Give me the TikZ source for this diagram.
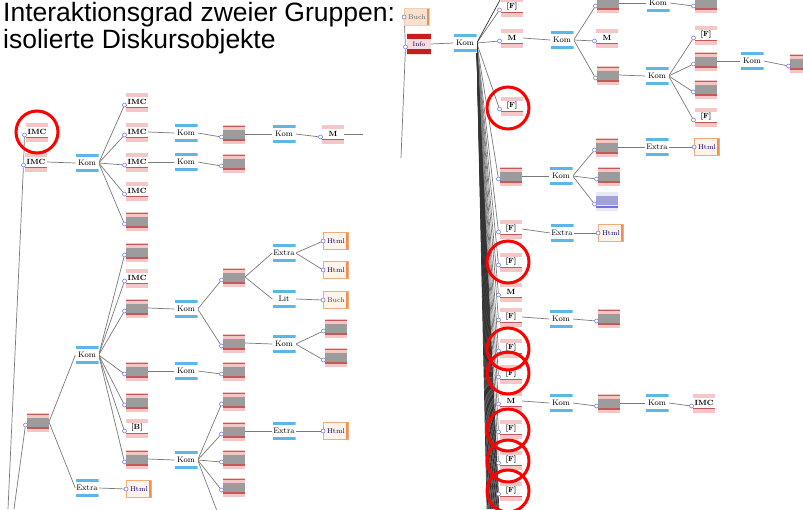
\documentclass[tikz,border=0pt]{standalone}
\usepackage{fontspec}
\newfontfamily\headfont{Liberation Sans}
\pgfdeclarelayer{bg}
\pgfdeclarelayer{wires}
\pgfsetlayers{bg,wires,main}

\definecolor{pinkc}{HTML}{F5C6C6}
\definecolor{redc}{HTML}{C65858}
\definecolor{darkredc}{HTML}{C41E1E}
\definecolor{greyc}{HTML}{9C9C9C}
\definecolor{bluec}{HTML}{5CB6E6}
\definecolor{orangec}{HTML}{EE9050}
\definecolor{docfill}{HTML}{FFF4EC}
\definecolor{portc}{HTML}{7A7AD8}
\definecolor{wirec}{HTML}{7A7A7A}
\definecolor{lavc}{HTML}{A2A2DA}

\tikzset{
  x=1pt, y=1pt,
  msgbase/.style={rectangle, minimum width=22pt, minimum height=19pt,
    inner sep=0pt, outer sep=0pt, fill=pinkc},
  greymsg/.style={msgbase, path picture={
      \fill[greyc] ([yshift=-5.5pt]path picture bounding box.north west)
        rectangle ([yshift=5pt]path picture bounding box.south east);
      \fill[redc] ([yshift=-1.2pt]path picture bounding box.north west)
        rectangle ([yshift=-2.7pt]path picture bounding box.north east);
      \fill[redc] ([yshift=2.6pt]path picture bounding box.south west)
        rectangle ([yshift=4.1pt]path picture bounding box.south east);}},
  lavmsg/.style={msgbase, fill=lavc!25, path picture={
      \fill[lavc] ([yshift=-4pt]path picture bounding box.north west)
        rectangle ([yshift=6pt]path picture bounding box.south east);
      \fill[lavc!70!blue] ([yshift=3pt]path picture bounding box.south west)
        rectangle ([yshift=4.2pt]path picture bounding box.south east);}},
  textmsg/.style={msgbase, font=\fontsize{7.5}{7.5}\selectfont\bfseries, path picture={
      \fill[white] ([yshift=-4pt]path picture bounding box.north west)
        rectangle ([yshift=5pt]path picture bounding box.south east);
      \fill[redc] ([yshift=3.2pt]path picture bounding box.south west)
        rectangle ([yshift=4.5pt]path picture bounding box.south east);}},
  redmsg/.style={msgbase, minimum width=24pt, minimum height=22pt, fill=pinkc!60,
    font=\fontsize{6.5}{6.5}\selectfont, text=blue!40!black, path picture={
      \fill[darkredc] ([yshift=-1pt]path picture bounding box.north west)
        rectangle ([yshift=-6pt]path picture bounding box.north east);
      \fill[darkredc] ([yshift=1pt]path picture bounding box.south west)
        rectangle ([yshift=6pt]path picture bounding box.south east);}},
  link/.style={rectangle, minimum width=23pt, minimum height=19pt, inner sep=0pt,
    fill=white, font=\fontsize{8}{8}\selectfont, path picture={
      \fill[bluec] ([yshift=-0.5pt]path picture bounding box.north west)
        rectangle ([yshift=-3.2pt]path picture bounding box.north east);
      \fill[bluec] ([yshift=0.5pt]path picture bounding box.south west)
        rectangle ([yshift=3.2pt]path picture bounding box.south east);}},
  doc/.style={rectangle, minimum width=25pt, minimum height=17pt, inner sep=0pt,
    fill=docfill, draw=orangec!75, line width=0.8pt,
    font=\fontsize{7}{7}\selectfont, text=blue!45!black, path picture={
      \fill[orangec] ([xshift=-2.8pt]path picture bounding box.north east)
        rectangle (path picture bounding box.south east);}},
  port/.style={circle, draw=portc, fill=white, line width=0.6pt,
    minimum size=4pt, inner sep=0pt},
  wire/.style={draw=wirec, line width=0.7pt},
  bundle/.style={draw=black!80, line width=0.7pt},
  ring/.style={circle, draw=red, line width=3pt, minimum size=42pt, inner sep=0pt},
  headline/.style={anchor=base west, inner sep=0pt,
    font=\headfont\fontsize{26.5}{30}\selectfont},
}

% message node with its port slightly below the left edge
\newcommand\msgnode[4]{%
  \node[#1] (#2) at (#3) {#4};
  \node[port] (p#2) at ([xshift=-1.5pt,yshift=-3pt]#2.west) {};}
% document node with its port on the left edge
\newcommand\docnode[4]{%
  \node[#1] (#2) at (#3) {#4};
  \node[port] (p#2) at (#2.west) {};}

\begin{document}
\begin{tikzpicture}
\useasboundingbox (0,0) rectangle (803,-509);
\begin{pgfonlayer}{bg}
  \fill[white] (0,0) rectangle (803,-509);
\end{pgfonlayer}

% heading
\node[headline] (title1) at (3,-21) {Interaktionsgrad zweier Gruppen:};
\node[headline] (title2) at (3,-48) {isolierte Diskursobjekte};

% ---------------- left tree ----------------
\msgnode{textmsg}{a1}{37,-132}{IMC}
\msgnode{textmsg}{a2}{36,-162}{IMC}
\msgnode{greymsg}{a3}{38,-422}{}
\node[link] (l1) at (87,-163) {Kom};
\node[link] (l4) at (87,-355) {Kom};
\node[link] (l5) at (87,-488) {Extra};
\docnode{doc}{d0}{139,-489}{Html}

\msgnode{textmsg}{b1}{137,-102}{IMC}
\msgnode{textmsg}{b2}{137,-132}{IMC}
\msgnode{textmsg}{b3}{137,-162}{IMC}
\msgnode{textmsg}{b4}{137,-191}{IMC}
\msgnode{greymsg}{b5}{137,-221}{}
\msgnode{greymsg}{b6}{137,-252}{}
\msgnode{textmsg}{b7}{137,-278}{IMC}
\msgnode{greymsg}{b8}{137,-308}{}
\msgnode{greymsg}{b9}{137,-371}{}
\msgnode{greymsg}{b10}{137,-402}{}
\msgnode{textmsg}{b11}{137,-428}{[B]}
\msgnode{greymsg}{b12}{137,-459}{}

\node[link] (c1) at (186,-133) {Kom};
\node[link] (c2) at (186,-162) {Kom};
\node[link] (c3) at (186,-309) {Kom};
\node[link] (c4) at (186,-371) {Kom};
\node[link] (c5) at (186,-460) {Kom};

\msgnode{greymsg}{d1}{234,-134}{}
\msgnode{greymsg}{d2}{234,-163}{}
\msgnode{greymsg}{d3}{234,-277}{}
\msgnode{greymsg}{d4}{234,-343}{}
\msgnode{greymsg}{d5}{234,-371}{}
\msgnode{greymsg}{e1}{234,-401}{}
\msgnode{greymsg}{e2}{234,-431}{}
\msgnode{greymsg}{e3}{234,-459}{}
\msgnode{greymsg}{e4}{234,-487}{}
\msgnode{greymsg}{e5}{234,-520}{}

\node[link] (f1) at (284,-134) {Kom};
\node[link] (f2) at (284,-253) {Extra};
\node[link] (f3) at (284,-299) {Lit};
\node[link] (f4) at (284,-344) {Kom};
\node[link] (f5) at (284,-431) {Extra};

\msgnode{textmsg}{g1}{333,-134}{M}
\docnode{doc}{g2}{336,-241}{Html}
\docnode{doc}{g3}{336,-270}{Html}
\docnode{doc, text=black!75}{g4}{336,-300}{Buch}
\msgnode{greymsg}{g5}{336,-328}{}
\msgnode{greymsg}{g6}{336,-357}{}
\docnode{doc}{g7}{336,-431}{Html}

\coordinate (t1) at (363,-134);
\coordinate (bl1) at (8,-509);
\coordinate (bl2) at (14,-509);

% ---------------- right tree ----------------
\docnode{doc, fill=orangec!28, draw=orangec!45, text=black!60}{rb}{417,-17}{Buch}
\msgnode{redmsg}{r0}{419,-44}{Info}
\node[link] (rk) at (465,-43) {Kom};

\msgnode{textmsg}{s0}{512,-7}{[F]}
\msgnode{textmsg}{s1}{512,-38}{M}
\msgnode{textmsg}{s2}{512,-106}{[F]}
\msgnode{greymsg}{s3}{511,-176}{}
\msgnode{textmsg}{s4}{511,-229}{[F]}
\msgnode{textmsg}{s5}{511,-262}{[F]}
\msgnode{textmsg}{s6}{511,-292}{M}
\msgnode{textmsg}{s7}{511,-317}{[F]}
\msgnode{textmsg}{s8}{511,-348}{[F]}
\msgnode{textmsg}{s9}{511,-374}{[F]}
\msgnode{textmsg}{s10}{511,-401}{M}
\msgnode{textmsg}{s11}{511,-429}{[F]}
\msgnode{textmsg}{s12}{511,-460}{[F]}
\msgnode{textmsg}{s13}{511,-491}{[F]}

\node[link] (h1) at (562,-40) {Kom};
\node[link] (h2) at (561,-176) {Kom};
\node[link] (h3) at (562,-233) {Extra};
\node[link] (h4) at (561,-319) {Kom};
\node[link] (h5) at (561,-403) {Kom};

\msgnode{greymsg}{i0}{608,-3}{}
\msgnode{textmsg}{i1}{607,-38}{M}
\msgnode{greymsg}{i2}{608,-75}{}
\msgnode{greymsg}{i3}{607,-147}{}
\msgnode{greymsg}{i4}{609,-176}{}
\msgnode{lavmsg}{i5}{607,-201}{}
\docnode{doc}{i6}{611,-233}{Html}
\msgnode{greymsg}{i7}{609,-318}{}
\msgnode{greymsg}{i8}{609,-403}{}

\node[link] (j0) at (658,-3) {Kom};
\node[link] (j1) at (657,-76) {Kom};
\node[link] (j2) at (657,-147) {Extra};
\node[link] (j3) at (657,-403) {Kom};

\msgnode{greymsg}{k0}{706,-3}{}
\msgnode{textmsg}{k1}{706,-35}{[F]}
\msgnode{greymsg}{k2}{706,-61}{}
\msgnode{greymsg}{k3}{706,-89}{}
\msgnode{textmsg}{k4}{706,-117}{[F]}
\docnode{doc}{k5}{707,-147}{Html}
\msgnode{textmsg}{k6}{704,-403}{IMC}

\node[link] (m1) at (752,-61) {Kom};
\msgnode{greymsg}{n1}{801,-63}{}

\coordinate (rl) at (401,-158);
\coordinate (rtop) at (500,0);

% ---------------- connectors ----------------
\begin{pgfonlayer}{wires}
  % left tree
  \draw[wire] (pa1) -- (pa2) -- (bl1);
  \draw[wire] (pa3) -- (bl2);
  \draw[wire] (a2.east) -- (l1.west);
  \foreach \t in {b1,b2,b3,b4,b5} \draw[wire] (l1.east) -- (p\t);
  \draw[wire] (a3.east) -- (l4.west);
  \draw[wire] (a3.east) -- (l5.west);
  \foreach \t in {b6,b7,b8,b9,b10,b11,b12} \draw[wire] (l4.east) -- (p\t);
  \draw[wire] (l5.east) -- (pd0);
  \draw[wire] (b2.east) -- (c1.west);
  \draw[wire] (c1.east) -- (pd1);
  \draw[wire] (d1.east) -- (f1.west);
  \draw[wire] (f1.east) -- (pg1);
  \draw[wire] (g1.east) -- (t1);
  \draw[wire] (b3.east) -- (c2.west);
  \draw[wire] (c2.east) -- (pd2);
  \draw[wire] (b8.east) -- (c3.west);
  \foreach \t in {d3,d4} \draw[wire] (c3.east) -- (p\t);
  \draw[wire] (d3.east) -- (f2.west);
  \draw[wire] (d3.east) -- (f3.west);
  \foreach \t in {g2,g3} \draw[wire] (f2.east) -- (p\t);
  \draw[wire] (f3.east) -- (pg4);
  \draw[wire] (d4.east) -- (f4.west);
  \foreach \t in {g5,g6} \draw[wire] (f4.east) -- (p\t);
  \draw[wire] (b9.east) -- (c4.west);
  \draw[wire] (c4.east) -- (pd5);
  \draw[wire] (b12.east) -- (c5.west);
  \foreach \t in {e1,e2,e3,e4,e5} \draw[wire] (c5.east) -- (p\t);
  \draw[wire] (e2.east) -- (f5.west);
  \draw[wire] (f5.east) -- (pg7);

  % right tree
  \draw[wire] (prb) -- (pr0) -- (rl);
  \draw[wire] (r0.east) -- (rk.west);
  \foreach \t in {s0,s1,s2,s3,s4,s5,s6,s7,s8,s9,s10,s11,s12,s13}
    \draw[wire] (rk.east) -- (p\t);
  \draw[bundle] (rk.east) -- (rtop);
  % dense fan running on to the messages below the lower edge
  \foreach \k in {0,...,17} {
    \coordinate (bz\k) at ({487+0.7*\k},-509);
    \draw[bundle] (rk.east) -- (bz\k);
  }
  \draw[wire] (s1.east) -- (h1.west);
  \foreach \t in {i0,i1,i2} \draw[wire] (h1.east) -- (p\t);
  \draw[wire] (i0.east) -- (j0.west);
  \draw[wire] (j0.east) -- (pk0);
  \draw[wire] (i2.east) -- (j1.west);
  \foreach \t in {k1,k2,k3,k4} \draw[wire] (j1.east) -- (p\t);
  \draw[wire] (k2.east) -- (m1.west);
  \draw[wire] (m1.east) -- (pn1);
  \draw[wire] (s3.east) -- (h2.west);
  \foreach \t in {i3,i4,i5} \draw[wire] (h2.east) -- (p\t);
  \draw[wire] (i3.east) -- (j2.west);
  \draw[wire] (j2.east) -- (pk5);
  \draw[wire] (s4.east) -- (h3.west);
  \draw[wire] (h3.east) -- (pi6);
  \draw[wire] (s7.east) -- (h4.west);
  \draw[wire] (h4.east) -- (pi7);
  \draw[wire] (s10.east) -- (h5.west);
  \draw[wire] (h5.east) -- (pi8);
  \draw[wire] (i8.east) -- (j3.west);
  \draw[wire] (j3.east) -- (pk6);
\end{pgfonlayer}

% highlight rings
\node[ring] (o1) at (37,-132) {};
\node[ring] (o2) at (508,-108) {};
\node[ring] (o3) at (508,-262) {};
\node[ring] (o4) at (508,-349) {};
\node[ring] (o5) at (508,-373) {};
\node[ring] (o6) at (508,-430) {};
\node[ring] (o7) at (508,-461) {};
\node[ring] (o8) at (508,-491) {};
\end{tikzpicture}
\end{document}
